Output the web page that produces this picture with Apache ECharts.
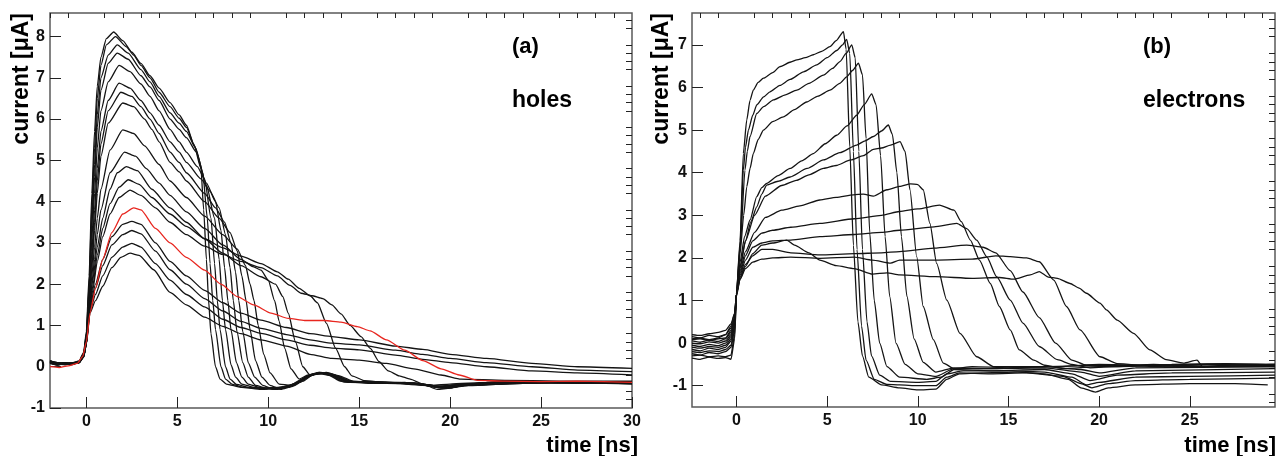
<!DOCTYPE html>
<html>
<head>
<meta charset="utf-8">
<script src="https://cdn.jsdelivr.net/npm/echarts@6.0.0/dist/echarts.min.js"></script>
<style>
html,body{margin:0;padding:0;background:#fff;}
#chart{width:1279px;height:456px;}
</style>
</head>
<body>
<div id="chart"></div>
<script>
// ---------- tick labels ----------
const holesXTicks = [0, 5, 10, 15, 20, 25, 30];
const holesYTicks = [-1, 0, 1, 2, 3, 4, 5, 6, 7, 8];
const elecXTicks = [0, 5, 10, 15, 20, 25];
const elecYTicks = [-1, 0, 1, 2, 3, 4, 5, 6, 7];

// ---------- (a) holes: [time ns, current uA] ----------
const holes01 = [[-2,0.15],[-1.6,0.08],[-1.2,0.1],[-0.8,0.08],[-0.4,0.14],[-0.15,0.35],[0,0.85],[0.15,2.2],[0.3,4.2],[0.45,5.7],[0.6,6.8],[0.8,7.5],[1.1,7.95],[1.5,8.11],[2,7.9],[2.5,7.62],[3,7.35],[3.5,7.05],[4,6.75],[4.6,6.4],[5.1,6.1],[5.5,5.85],[5.9,5.4],[6.3,4.8],[6.45,3.8],[6.6,2.6],[6.72,1.6],[6.85,0.8],[7.1,0.0],[7.35,-0.3],[7.7,-0.42],[8.5,-0.5],[9.5,-0.52],[10.5,-0.5],[11.3,-0.45],[12,-0.28],[12.7,-0.16],[13.3,-0.2],[14,-0.35],[15,-0.38],[17,-0.38],[19,-0.45],[20,-0.42],[22,-0.38],[25,-0.36],[28,-0.38],[30,-0.4]];
const holes02 = [[-2,0.1],[-1.6,0.05],[-1.2,0.07],[-0.8,0.06],[-0.4,0.12],[-0.15,0.32],[0,0.8],[0.15,2.0],[0.3,3.9],[0.45,5.3],[0.6,6.5],[0.8,7.3],[1.1,7.8],[1.6,8.0],[2.2,7.75],[2.6,7.55],[3,7.3],[3.5,7.0],[4,6.65],[4.6,6.3],[5.1,6.02],[5.5,5.8],[5.95,5.35],[6.4,4.7],[6.65,3.6],[6.8,2.5],[6.95,1.6],[7.1,0.9],[7.4,0.0],[7.65,-0.3],[8,-0.42],[8.6,-0.5],[9.6,-0.55],[10.6,-0.52],[11.4,-0.45],[12.1,-0.25],[12.8,-0.15],[13.4,-0.2],[14.1,-0.36],[15.5,-0.4],[17.5,-0.38],[19.2,-0.48],[20.2,-0.45],[22.5,-0.37],[25.5,-0.38],[28,-0.36],[30,-0.38]];
const holes03 = [[-2,0.12],[-1.6,0.1],[-1.2,0.05],[-0.8,0.08],[-0.4,0.1],[-0.15,0.3],[0,0.75],[0.15,1.9],[0.3,3.6],[0.45,4.9],[0.6,6.1],[0.8,7.0],[1.2,7.55],[1.7,7.8],[2.3,7.6],[3,7.2],[3.5,6.9],[4,6.55],[4.6,6.15],[5.1,5.9],[5.5,5.7],[6.0,5.3],[6.5,4.55],[6.85,3.6],[7.05,2.5],[7.2,1.6],[7.35,0.9],[7.65,0.0],[7.9,-0.3],[8.25,-0.43],[8.9,-0.5],[9.7,-0.53],[10.7,-0.5],[11.4,-0.42],[12.1,-0.24],[12.8,-0.14],[13.5,-0.22],[14.2,-0.37],[16,-0.38],[18,-0.4],[19.3,-0.5],[20.3,-0.44],[23,-0.38],[26,-0.36],[30,-0.37]];
const holes04 = [[-2,0.08],[-1.6,0.04],[-1.2,0.08],[-0.8,0.05],[-0.4,0.1],[-0.15,0.28],[0,0.72],[0.15,1.8],[0.3,3.4],[0.45,4.6],[0.6,5.8],[0.8,6.7],[1.2,7.35],[1.7,7.6],[2.3,7.45],[3,7.05],[3.5,6.78],[4,6.45],[4.6,6.0],[5.1,5.75],[5.5,5.55],[6.05,5.2],[6.6,4.4],[7.05,3.6],[7.3,2.6],[7.48,1.6],[7.65,0.9],[7.95,0.05],[8.2,-0.25],[8.55,-0.42],[9.2,-0.5],[9.9,-0.54],[10.8,-0.5],[11.5,-0.42],[12.2,-0.22],[12.9,-0.15],[13.5,-0.2],[14.3,-0.36],[16,-0.4],[18,-0.4],[19.5,-0.52],[20.5,-0.45],[23,-0.4],[26,-0.38],[30,-0.42]];
const holes05 = [[-2,0.13],[-1.6,0.06],[-1.2,0.09],[-0.8,0.07],[-0.4,0.12],[-0.15,0.3],[0,0.7],[0.15,1.7],[0.3,3.1],[0.45,4.2],[0.6,5.3],[0.8,6.2],[1.2,6.9],[1.8,7.3],[2.4,7.15],[3,6.85],[3.5,6.55],[4,6.2],[4.6,5.75],[5.1,5.45],[5.5,5.2],[6.1,4.85],[6.6,4.45],[7.1,4.0],[7.4,3.3],[7.6,2.4],[7.78,1.6],[7.95,0.9],[8.25,0.1],[8.55,-0.25],[8.9,-0.42],[9.5,-0.5],[10.2,-0.54],[10.9,-0.5],[11.5,-0.4],[12.2,-0.22],[12.9,-0.14],[13.6,-0.22],[14.3,-0.35],[16,-0.37],[18,-0.4],[19.6,-0.48],[21,-0.42],[24,-0.38],[27,-0.38],[30,-0.36]];
const holes06 = [[-2,0.1],[-1.6,0.08],[-1.2,0.06],[-0.8,0.1],[-0.4,0.11],[-0.15,0.27],[0,0.68],[0.15,1.6],[0.3,2.8],[0.45,3.8],[0.6,4.8],[0.8,5.7],[1.2,6.45],[1.8,6.87],[2.4,6.75],[3,6.45],[3.5,6.15],[4,5.85],[4.6,5.45],[5.1,5.2],[5.5,4.95],[6.3,4.55],[6.8,4.25],[7.3,3.85],[7.65,3.2],[7.9,2.4],[8.08,1.6],[8.28,0.85],[8.6,0.1],[8.9,-0.25],[9.3,-0.45],[9.9,-0.52],[10.5,-0.55],[11,-0.5],[11.6,-0.4],[12.3,-0.2],[13,-0.15],[13.6,-0.21],[14.4,-0.37],[16,-0.39],[18,-0.42],[19.5,-0.5],[21,-0.44],[24,-0.39],[27,-0.37],[30,-0.38]];
const holes07 = [[-2,0.14],[-1.6,0.1],[-1.2,0.08],[-0.8,0.09],[-0.4,0.13],[-0.15,0.3],[0,0.65],[0.15,1.5],[0.3,2.6],[0.45,3.5],[0.6,4.5],[0.8,5.4],[1.2,6.2],[1.9,6.65],[2.5,6.55],[3,6.3],[3.5,6.0],[4,5.65],[4.6,5.2],[5.1,4.95],[5.5,4.7],[6.5,4.2],[7.1,3.85],[7.6,3.5],[7.95,3.0],[8.2,2.3],[8.38,1.6],[8.6,0.85],[8.9,0.1],[9.25,-0.25],[9.7,-0.45],[10.3,-0.55],[11.1,-0.5],[11.7,-0.38],[12.4,-0.2],[13.1,-0.16],[13.7,-0.22],[14.5,-0.38],[16.5,-0.4],[18.5,-0.42],[19.7,-0.5],[21,-0.45],[24,-0.4],[27,-0.39],[30,-0.41]];
const holes08 = [[-2,0.11],[-1.6,0.06],[-1.2,0.1],[-0.8,0.07],[-0.4,0.12],[-0.15,0.28],[0,0.63],[0.15,1.45],[0.3,2.4],[0.45,3.3],[0.6,4.2],[0.8,5.1],[1.2,5.9],[2.0,6.39],[2.6,6.3],[3.2,6.0],[3.6,5.75],[4,5.45],[4.6,4.95],[5.1,4.72],[5.5,4.5],[6.5,4.0],[7.3,3.6],[7.9,3.25],[8.3,2.8],[8.55,2.2],[8.78,1.6],[9.0,0.9],[9.3,0.15],[9.65,-0.25],[10.1,-0.45],[10.7,-0.55],[11.3,-0.48],[11.9,-0.35],[12.5,-0.18],[13.2,-0.15],[13.8,-0.22],[14.6,-0.37],[16.5,-0.38],[18.5,-0.45],[19.8,-0.52],[21,-0.46],[24,-0.4],[27,-0.37],[30,-0.39]];
const holes09 = [[-2,0.12],[-1.6,0.08],[-1.2,0.07],[-0.8,0.09],[-0.4,0.1],[-0.15,0.26],[0,0.6],[0.15,1.4],[0.3,2.2],[0.45,2.9],[0.6,3.6],[0.8,4.3],[1.3,5.25],[2.0,5.74],[2.6,5.65],[3.2,5.35],[4,4.9],[4.6,4.5],[5.5,4.1],[6.5,3.65],[7.5,3.2],[8.3,2.85],[8.75,2.45],[9.0,2.0],[9.22,1.6],[9.45,1.0],[9.75,0.3],[10.1,-0.15],[10.6,-0.42],[11.2,-0.45],[11.8,-0.32],[12.5,-0.17],[13.2,-0.14],[13.9,-0.22],[14.7,-0.36],[16.5,-0.38],[18.5,-0.43],[19.8,-0.5],[21,-0.45],[24,-0.38],[27,-0.4],[30,-0.38]];
const holes10 = [[-2,0.1],[-1.6,0.07],[-1.2,0.09],[-0.8,0.06],[-0.4,0.11],[-0.15,0.25],[0,0.58],[0.15,1.35],[0.3,2.0],[0.45,2.6],[0.6,3.2],[0.8,3.8],[1.3,4.7],[2.1,5.2],[2.7,5.1],[3.3,4.8],[4,4.45],[4.6,4.15],[5.5,3.75],[6.5,3.35],[7.5,2.95],[8.5,2.6],[9.2,2.42],[9.6,2.34],[10.0,2.1],[10.35,1.6],[10.6,1.1],[10.9,0.45],[11.25,-0.05],[11.7,-0.3],[12.2,-0.2],[12.8,-0.14],[13.5,-0.18],[14.2,-0.33],[15,-0.38],[17,-0.39],[18.8,-0.45],[19.8,-0.52],[21,-0.44],[24,-0.37],[27,-0.39],[30,-0.4]];
const holes10b = [[-2,0.12],[-1.6,0.06],[-1.2,0.08],[-0.8,0.07],[-0.4,0.1],[-0.15,0.25],[0,0.57],[0.15,1.32],[0.35,2.1],[0.6,2.9],[0.9,3.6],[1.3,4.3],[1.7,4.7],[2.2,4.85],[2.8,4.75],[3.6,4.3],[4.6,3.85],[5.5,3.5],[6.5,3.1],[7.5,2.75],[8.5,2.45],[9.6,2.18],[10.4,2.0],[10.8,1.7],[11.1,1.3],[11.5,0.6],[11.9,0.0],[12.3,-0.2],[12.9,-0.16],[13.6,-0.2],[14.4,-0.35],[16,-0.38],[18,-0.4],[19.6,-0.48],[21,-0.43],[24,-0.38],[27,-0.37],[30,-0.39]];
const holes11 = [[-2,0.13],[-1.6,0.09],[-1.2,0.07],[-0.8,0.08],[-0.4,0.12],[-0.15,0.25],[0,0.56],[0.15,1.3],[0.35,1.95],[0.6,2.7],[0.9,3.35],[1.3,3.95],[1.8,4.35],[2.3,4.53],[2.9,4.42],[3.6,4.1],[4.6,3.7],[5.5,3.4],[6.5,3.1],[7.5,2.88],[8.5,2.68],[9.6,2.5],[10.5,2.3],[11.1,2.12],[11.7,1.9],[12.3,1.72],[12.7,1.55],[13.2,1.05],[13.7,0.45],[14.2,0.0],[14.6,-0.22],[15.3,-0.34],[16.5,-0.38],[18,-0.4],[19.3,-0.48],[20.3,-0.44],[22.5,-0.38],[25,-0.36],[28,-0.38],[30,-0.37]];
const holes12 = [[-2,0.09],[-1.6,0.05],[-1.2,0.08],[-0.8,0.07],[-0.4,0.1],[-0.15,0.24],[0,0.55],[0.15,1.28],[0.35,1.85],[0.6,2.55],[0.9,3.15],[1.3,3.7],[1.8,4.1],[2.4,4.28],[3,4.15],[3.8,3.85],[4.6,3.5],[5.5,3.2],[6.5,2.92],[7.5,2.72],[8.5,2.55],[9.6,2.4],[10.5,2.2],[11.2,1.97],[11.8,1.78],[12.4,1.72],[13,1.65],[13.5,1.5],[14,1.28],[14.5,1.0],[15.1,0.73],[15.6,0.45],[16.1,0.12],[16.6,-0.1],[17.2,-0.22],[17.8,-0.3],[18.5,-0.42],[19.3,-0.55],[20,-0.52],[21,-0.42],[23,-0.36],[26,-0.37],[30,-0.4]];
const holes14 = [[-2,0.12],[-1.6,0.06],[-1.2,0.08],[-0.8,0.05],[-0.4,0.11],[-0.15,0.25],[0,0.6],[0.2,1.45],[0.5,2.0],[0.9,2.6],[1.4,3.15],[2,3.45],[2.5,3.52],[3,3.45],[3.8,3.0],[4.6,2.55],[5.5,2.2],[6.5,1.85],[7.5,1.55],[8.5,1.3],[9.6,1.13],[11,0.95],[12.3,0.8],[13.5,0.73],[15,0.65],[17,0.5],[18.5,0.42],[20,0.3],[22,0.2],[24.5,0.08],[27,0.0],[30,-0.04]];
const holes15 = [[-2,0.1],[-1.6,0.07],[-1.2,0.05],[-0.8,0.08],[-0.4,0.1],[-0.15,0.24],[0,0.58],[0.2,1.4],[0.5,1.9],[0.9,2.45],[1.4,2.95],[2,3.2],[2.5,3.3],[3,3.22],[3.8,2.8],[4.6,2.35],[5.5,2.0],[6.5,1.65],[7.5,1.35],[8.5,1.1],[9.6,0.93],[11,0.78],[12.3,0.65],[13.5,0.57],[15,0.53],[17,0.4],[18.5,0.3],[20,0.2],[22,0.1],[24.5,0.0],[27,-0.08],[30,-0.12]];
const holes16 = [[-2,0.14],[-1.6,0.1],[-1.2,0.06],[-0.8,0.07],[-0.4,0.12],[-0.15,0.25],[0,0.57],[0.2,1.35],[0.5,1.75],[0.9,2.2],[1.4,2.65],[2,2.9],[2.5,2.99],[3,2.9],[3.8,2.5],[4.6,2.1],[5.5,1.75],[6.5,1.45],[7.5,1.15],[8.5,0.95],[9.6,0.81],[11,0.65],[12.3,0.52],[13.5,0.45],[15,0.41],[17,0.28],[18.5,0.18],[20,0.1],[22,0.0],[24.5,-0.1],[27,-0.15],[30,-0.2]];
const holes17 = [[-2,0.11],[-1.6,0.04],[-1.2,0.07],[-0.8,0.06],[-0.4,0.1],[-0.15,0.23],[0,0.55],[0.2,1.3],[0.5,1.6],[0.9,1.95],[1.4,2.4],[1.9,2.65],[2.4,2.75],[2.9,2.7],[3.7,2.35],[4.6,1.8],[5.5,1.5],[6.5,1.2],[7.5,0.98],[8.5,0.8],[9.6,0.65],[11,0.5],[12.3,0.3],[13.5,0.2],[15,0.16],[16.5,0.08],[18,-0.05],[19.5,-0.2],[20.6,-0.3],[23,-0.33],[26,-0.35],[30,-0.35]];
// highlighted (red) trace
const holesRed = [[-2,0.0],[-1.5,-0.02],[-1,0.02],[-0.5,0.08],[-0.2,0.25],[0,0.6],[0.2,1.3],[0.5,1.9],[0.9,2.6],[1.4,3.25],[2,3.7],[2.6,3.85],[3,3.8],[3.8,3.35],[4.6,3.0],[5.5,2.65],[6.5,2.34],[7.4,2.0],[8.3,1.7],[9.2,1.5],[10.15,1.3],[11.1,1.17],[12,1.12],[13.1,1.12],[14,1.08],[14.9,0.97],[15.6,0.87],[16.5,0.65],[17.5,0.4],[18.5,0.15],[19.5,-0.05],[20.5,-0.2],[21.5,-0.33],[23,-0.35],[25,-0.36],[27,-0.35],[30,-0.38]];

// ---------- (b) electrons: [time ns, current uA] ----------
const elec01 = [[-2.45,0.08],[-2,0.1],[-1.5,0.06],[-1,0.1],[-0.6,0.12],[-0.3,0.3],[-0.1,0.6],[0,1.15],[0.2,2.4],[0.38,4.45],[0.57,5.24],[0.75,5.7],[0.93,5.94],[1.2,6.12],[1.49,6.22],[2,6.35],[2.4,6.49],[3,6.6],[3.33,6.65],[3.8,6.7],[4.24,6.77],[4.7,6.85],[5.16,6.96],[5.5,7.1],[5.9,7.31],[6.05,6.9],[6.25,4.6],[6.45,2.3],[6.7,0.5],[6.95,-0.3],[7.3,-0.8],[8,-0.98],[9,-1.05],[10,-1.1],[11,-1.08],[11.6,-0.85],[12.3,-0.72],[13.5,-0.7],[15.5,-0.68],[17,-0.72],[18.3,-0.85],[19,-1.05],[19.8,-1.15],[20.5,-1.05],[22,-0.98],[25,-0.95],[27.5,-0.95],[29.3,-0.98]];
const elec02 = [[-2.45,0.15],[-2,0.12],[-1.5,0.18],[-1,0.15],[-0.6,0.2],[-0.3,0.35],[-0.1,0.6],[0,1.15],[0.2,2.3],[0.38,4.06],[0.5,4.6],[0.66,5.0],[0.9,5.35],[1.12,5.59],[1.5,5.78],[1.85,5.9],[2.4,6.05],[2.96,6.19],[3.7,6.37],[4.43,6.53],[5,6.7],[5.53,6.87],[5.85,7.0],[6.08,7.13],[6.25,6.8],[6.45,4.5],[6.65,2.2],[6.9,0.4],[7.15,-0.4],[7.6,-0.85],[8.3,-0.97],[9,-0.98],[10,-1.0],[11,-1.0],[11.6,-0.8],[12.3,-0.7],[14,-0.72],[16,-0.7],[18,-0.78],[19,-0.95],[19.6,-1.05],[20.5,-0.95],[22,-0.88],[25,-0.85],[29.7,-0.82]];
const elec03 = [[-2.45,0.0],[-2,-0.02],[-1.5,0.03],[-1,0.0],[-0.6,0.05],[-0.3,0.2],[-0.1,0.5],[0,1.15],[0.2,2.2],[0.47,4.06],[0.6,4.5],[0.75,4.85],[1.12,5.39],[1.5,5.55],[2.04,5.71],[2.7,5.83],[3.33,5.94],[4,6.1],[4.8,6.29],[5.3,6.45],[5.71,6.61],[6.05,6.8],[6.36,7.0],[6.55,6.7],[6.75,4.5],[6.95,2.2],[7.2,0.5],[7.45,-0.3],[7.9,-0.75],[8.5,-0.9],[10,-0.92],[11,-0.9],[11.6,-0.72],[12.5,-0.65],[15,-0.65],[17,-0.68],[18.5,-0.8],[19.3,-0.98],[20,-0.92],[22,-0.8],[25,-0.78],[29.7,-0.75]];
const elec04 = [[-2.45,-0.05],[-2,-0.08],[-1.5,-0.03],[-1,-0.06],[-0.6,0.0],[-0.3,0.15],[-0.1,0.5],[0,1.15],[0.2,2.1],[0.4,3.0],[0.57,3.67],[0.75,4.1],[0.93,4.45],[1.2,4.78],[1.49,5.0],[2,5.2],[2.59,5.31],[3.2,5.48],[3.87,5.66],[4.5,5.8],[5.16,5.94],[5.7,6.1],[6.08,6.25],[6.4,6.4],[6.73,6.57],[6.95,6.3],[7.15,4.8],[7.35,2.6],[7.6,1.0],[7.9,0.0],[8.3,-0.55],[9,-0.8],[10.5,-0.85],[11.3,-0.8],[12,-0.62],[14,-0.65],[17,-0.62],[18.5,-0.72],[19.5,-0.88],[21,-0.75],[24,-0.7],[29.7,-0.68]];
const elec05 = [[-2.45,0.1],[-2,0.12],[-1.5,0.08],[-1,0.12],[-0.6,0.2],[-0.3,0.4],[-0.1,0.7],[0,1.15],[0.2,1.9],[0.45,2.5],[0.75,2.89],[1.12,3.44],[1.4,3.65],[1.67,3.75],[2.3,3.93],[2.96,4.1],[3.6,4.28],[4.24,4.45],[4.9,4.68],[5.53,4.88],[6.1,5.1],[6.63,5.35],[7.05,5.6],[7.46,5.85],[7.7,5.6],[7.95,4.4],[8.2,2.5],[8.45,1.1],[8.8,0.0],[9.3,-0.5],[10,-0.72],[11,-0.78],[12,-0.6],[14,-0.6],[17,-0.58],[19,-0.68],[20,-0.78],[22,-0.65],[29.7,-0.6]];
const elec06 = [[-2.45,-0.15],[-2,-0.18],[-1.5,-0.12],[-1,-0.15],[-0.6,-0.1],[-0.3,0.05],[-0.1,0.45],[0,1.15],[0.2,1.8],[0.5,2.4],[0.8,2.85],[1.12,3.2],[1.4,3.5],[1.67,3.71],[2.3,3.8],[2.96,3.9],[3.9,4.1],[4.8,4.3],[5.7,4.47],[6.63,4.65],[7.1,4.75],[7.55,4.85],[8,4.98],[8.38,5.12],[8.6,4.9],[8.85,4.0],[9.1,2.5],[9.4,1.1],[9.8,0.1],[10.3,-0.45],[11,-0.68],[12,-0.58],[14,-0.6],[17,-0.55],[19,-0.62],[20,-0.7],[22,-0.58],[29.7,-0.55]];
const elec07 = [[-2.45,0.05],[-2,0.02],[-1.5,0.07],[-1,0.04],[-0.6,0.1],[-0.3,0.25],[-0.1,0.55],[0,1.15],[0.2,1.75],[0.5,2.4],[1,3.0],[1.6,3.45],[2.5,3.7],[3.3,3.82],[4,3.95],[4.8,4.1],[5.5,4.17],[6.3,4.3],[7,4.4],[7.55,4.55],[8,4.58],[8.5,4.65],[9.02,4.73],[9.3,4.5],[9.57,3.6],[9.94,2.03],[10.3,0.86],[10.86,0.08],[11.41,-0.47],[12,-0.6],[13,-0.55],[15,-0.58],[17,-0.55],[20,-0.52],[25,-0.55],[29.7,-0.52]];
const elec08 = [[-2.45,-0.2],[-2,-0.22],[-1.5,-0.18],[-1,-0.2],[-0.6,-0.15],[-0.3,-0.05],[-0.1,0.4],[0,1.15],[0.2,1.7],[0.5,2.15],[1,2.6],[1.6,2.95],[2.5,3.12],[3.5,3.22],[4.6,3.36],[5.5,3.42],[6.45,3.48],[7,3.5],[7.55,3.45],[8.3,3.6],[9,3.68],[9.6,3.74],[10.0,3.72],[10.3,3.6],[10.67,2.81],[11.04,1.87],[11.6,1.01],[12.33,0.23],[13.25,-0.32],[14.17,-0.55],[16,-0.55],[18,-0.55],[20,-0.5],[23,-0.52],[26,-0.5],[29.7,-0.5]];
const elec09 = [[-2.45,-0.3],[-2,-0.28],[-1.5,-0.32],[-1,-0.3],[-0.6,-0.32],[-0.3,-0.28],[-0.1,0.2],[0,1.1],[0.2,1.65],[0.5,2.05],[0.9,2.4],[1.4,2.58],[2,2.65],[3,2.72],[4.6,2.81],[6.5,2.92],[8,3.0],[9,3.09],[10,3.15],[11.2,3.24],[12.0,3.12],[12.4,2.85],[12.9,2.42],[13.4,1.95],[14.0,1.4],[14.5,0.86],[15.1,0.31],[15.6,-0.16],[16.4,-0.4],[17,-0.52],[18,-0.6],[20,-0.55],[23,-0.5],[26,-0.55],[29.7,-0.55]];
const elec10 = [[-2.45,-0.1],[-2,-0.12],[-1.5,-0.08],[-1,-0.1],[-0.6,-0.05],[-0.3,0.1],[-0.1,0.45],[0,1.15],[0.2,1.6],[0.5,1.95],[0.9,2.25],[1.4,2.35],[2,2.4],[3,2.42],[4.6,2.5],[6.5,2.55],[8,2.6],[9,2.65],[10.9,2.73],[12.15,2.81],[12.7,2.69],[13.25,2.42],[13.8,2.03],[14.35,1.56],[15.1,1.01],[15.8,0.47],[16.7,-0.08],[17.7,-0.39],[18.5,-0.5],[19.5,-0.58],[21,-0.55],[24,-0.5],[27,-0.48],[29.7,-0.5]];
const elec11 = [[-2.45,-0.25],[-2,-0.28],[-1.5,-0.22],[-1,-0.25],[-0.6,-0.2],[-0.3,-0.1],[-0.1,0.3],[0,1.15],[0.2,1.55],[0.5,1.85],[0.9,2.05],[1.4,2.2],[2,2.2],[3,2.12],[4.6,2.07],[6.5,2.1],[8,2.12],[9,2.15],[10.9,2.23],[12.7,2.3],[13.6,2.25],[14.3,2.12],[15.1,1.7],[15.8,1.2],[16.7,0.6],[17.6,0.0],[18.5,-0.4],[19.3,-0.52],[21,-0.55],[24,-0.52],[27,-0.5],[29.7,-0.55]];
const elec12 = [[-2.45,-0.35],[-2,-0.38],[-1.5,-0.33],[-1,-0.36],[-0.6,-0.34],[-0.3,-0.38],[-0.1,0.1],[0,1.1],[0.2,1.5],[0.5,1.75],[0.9,1.9],[1.4,1.97],[2,2.0],[3,2.02],[4.6,1.99],[6.5,2.02],[7.5,1.95],[8.5,1.88],[9,1.95],[11,1.95],[13,1.97],[14.3,2.05],[15.1,2.03],[16,2.0],[16.7,1.91],[17.5,1.48],[18.2,0.86],[18.95,0.31],[20.05,-0.32],[21,-0.48],[23,-0.55],[26,-0.5],[29.7,-0.52]];
const elec13 = [[-2.45,0.2],[-2,0.18],[-1.5,0.22],[-1,0.25],[-0.6,0.3],[-0.3,0.45],[-0.1,0.7],[0,1.15],[0.2,1.5],[0.5,1.8],[0.9,2.1],[1.4,2.3],[2,2.35],[2.77,2.42],[3.2,2.3],[4,2.12],[4.6,1.95],[5.5,1.82],[6.5,1.75],[7.5,1.62],[8.3,1.65],[9,1.6],[11,1.56],[13,1.52],[14.5,1.54],[15.3,1.5],[16.2,1.6],[16.7,1.68],[17.2,1.55],[17.7,1.52],[18.4,1.4],[18.9,1.29],[19.3,1.17],[20.05,0.94],[20.4,0.78],[21,0.54],[21.9,0.23],[22.8,-0.16],[23.7,-0.39],[24.65,-0.47],[25.4,-0.4],[25.7,-0.55],[27,-0.52],[29.7,-0.5]];

const holesBlack = [holes01, holes02, holes03, holes04, holes05, holes06, holes07, holes08, holes09, holes10, holes10b, holes11, holes12, holes14, holes15, holes16, holes17];
const elecTraces = [elec01, elec02, elec03, elec04, elec05, elec06, elec07, elec08, elec09, elec10, elec11, elec12, elec13];

// minor tick positions between axis limits (axis decoration only)
function minorTicks(lo, hi, step, majors) {
  const out = [];
  const n = Math.round((hi - lo) / step);
  for (let i = 0; i <= n; i++) {
    const v = Math.round((lo + i * step) * 100) / 100;
    if (majors.indexOf(v) < 0) out.push(v);
  }
  return out;
}

const FONT = "'Liberation Sans', Arial, Helvetica, sans-serif";
const labelStyle = { fontFamily: FONT, fontSize: 16, fontWeight: 'bold', color: '#111' };

function xAxes(grid, min, max, majors, minors) {
  return [
    { gridIndex: grid, type: 'value', min: min, max: max,
      axisLine: { show: false, onZero: false }, splitLine: { show: false },
      axisTick: { show: true, inside: true, length: 11, customValues: majors, lineStyle: { color: '#222', width: 1 } },
      axisLabel: Object.assign({ show: true, margin: 6, customValues: majors }, labelStyle) },
    { gridIndex: grid, type: 'value', min: min, max: max,
      axisLine: { show: false, onZero: false }, splitLine: { show: false },
      axisTick: { show: true, inside: true, length: 5, customValues: minors, lineStyle: { color: '#222', width: 1 } },
      axisLabel: { show: false } }
  ];
}
function yAxes(grid, min, max, majors, minors) {
  return [
    { gridIndex: grid, type: 'value', min: min, max: max,
      axisLine: { show: false, onZero: false }, splitLine: { show: false },
      axisTick: { show: true, inside: true, length: 11, customValues: majors, lineStyle: { color: '#222', width: 1 } },
      axisLabel: Object.assign({ show: true, margin: 5, customValues: majors }, labelStyle) },
    { gridIndex: grid, type: 'value', min: min, max: max,
      axisLine: { show: false, onZero: false }, splitLine: { show: false },
      axisTick: { show: true, inside: true, length: 6, customValues: minors, lineStyle: { color: '#222', width: 1 } },
      axisLabel: { show: false } }
  ];
}

const series = [];
function addLine(data, xi, yi, color, z) {
  series.push({ type: 'line', data: data, xAxisIndex: xi, yAxisIndex: yi,
    showSymbol: false, symbol: 'none', smooth: 0.2, smoothMonotone: 'x',
    lineStyle: { color: color, width: 1.3 }, z: z, silent: true, animation: false });
}
holesBlack.forEach(d => addLine(d, 0, 0, '#141414', 3));
addLine(holesRed, 0, 0, '#e8261f', 4);
elecTraces.forEach(d => addLine(d, 2, 2, '#141414', 3));

const chart = echarts.init(document.getElementById('chart'), null, { renderer: 'canvas' });
chart.setOption({
  animation: false,
  backgroundColor: '#ffffff',
  grid: [
    { left: 50, top: 13, width: 582, height: 395, show: true, borderColor: '#5a5a5a', borderWidth: 1.5, backgroundColor: '#fff' },
    { left: 692, top: 13, width: 583, height: 394, show: true, borderColor: '#5a5a5a', borderWidth: 1.5, backgroundColor: '#fff' }
  ],
  xAxis: [].concat(
    xAxes(0, -2, 30, holesXTicks, minorTicks(-2, 30, 1, holesXTicks)),
    xAxes(1, -2.45, 29.7, elecXTicks, minorTicks(-2, 29, 1, elecXTicks))
  ),
  yAxis: [].concat(
    yAxes(0, -1, 8.57, holesYTicks, minorTicks(-1, 8.4, 0.2, holesYTicks)),
    yAxes(1, -1.5, 7.75, elecYTicks, minorTicks(-1.4, 7.6, 0.2, elecYTicks))
  ),
  graphic: [
    { type: 'text', x: 22, y: 13, rotation: Math.PI / 2, style: { text: 'current [\u03bcA]', fontFamily: FONT, fontSize: 23, fontWeight: 'bold', fill: '#000', align: 'right', verticalAlign: 'middle' } },
    { type: 'text', x: 662, y: 13, rotation: Math.PI / 2, style: { text: 'current [\u03bcA]', fontFamily: FONT, fontSize: 23, fontWeight: 'bold', fill: '#000', align: 'right', verticalAlign: 'middle' } },
    { type: 'text', x: 638, y: 446, style: { text: 'time [ns]', fontFamily: FONT, fontSize: 22, fontWeight: 'bold', fill: '#000', align: 'right', verticalAlign: 'middle' } },
    { type: 'text', x: 1276, y: 446, style: { text: 'time [ns]', fontFamily: FONT, fontSize: 22, fontWeight: 'bold', fill: '#000', align: 'right', verticalAlign: 'middle' } },
    { type: 'text', x: 512, y: 47, style: { text: '(a)', fontFamily: FONT, fontSize: 22, fontWeight: 'bold', fill: '#000', align: 'left', verticalAlign: 'middle' } },
    { type: 'text', x: 512, y: 101, style: { text: 'holes', fontFamily: FONT, fontSize: 23, fontWeight: 'bold', fill: '#000', align: 'left', verticalAlign: 'middle' } },
    { type: 'text', x: 1143, y: 47, style: { text: '(b)', fontFamily: FONT, fontSize: 22, fontWeight: 'bold', fill: '#000', align: 'left', verticalAlign: 'middle' } },
    { type: 'text', x: 1143, y: 101, style: { text: 'electrons', fontFamily: FONT, fontSize: 23, fontWeight: 'bold', fill: '#000', align: 'left', verticalAlign: 'middle' } }
  ],
  series: series
});
</script>
</body>
</html>
